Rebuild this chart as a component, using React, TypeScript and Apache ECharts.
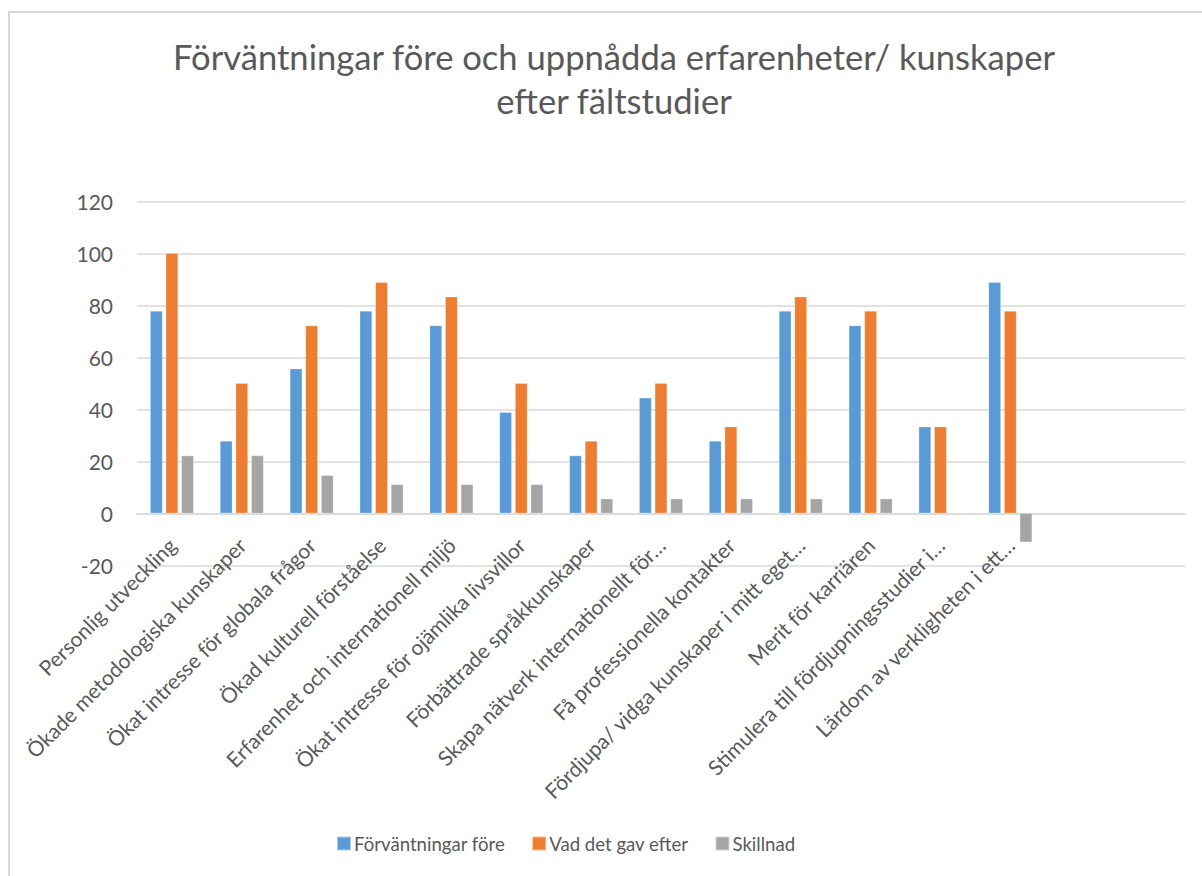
import React, { useEffect, useRef } from "react";
import * as echarts from "echarts";

const categories = [
  "Personlig utveckling",
  "Ökade metodologiska kunskaper",
  "Ökat intresse för globala frågor",
  "Ökad kulturell förståelse",
  "Erfarenhet och internationell miljö",
  "Ökat intresse för ojämlika livsvillor",
  "Förbättrade språkkunskaper",
  "Skapa nätverk internationellt för…",
  "Få professionella kontakter",
  "Fördjupa/ vidga kunskaper i mitt eget…",
  "Merit för karriären",
  "Stimulera till fördjupningsstudier i…",
  "Lärdom av verkligheten i ett…",
  "",
  "",
];

const fore = [77.8, 27.8, 55.6, 77.8, 72.2, 38.9, 22.2, 44.4, 27.8, 77.8, 72.2, 33.3, 88.9, null, null];
const efter = [100, 50, 72.2, 88.9, 83.3, 50, 27.8, 50, 33.3, 83.3, 77.8, 33.3, 77.8, null, null];
const skillnad = [22.2, 22.2, 14.6, 11.1, 11.1, 11.1, 5.6, 5.6, 5.6, 5.6, 5.6, 0, -11.1, null, null];

const seriesNames = ["Förväntningar före", "Vad det gav efter", "Skillnad"];
const colors = ["#5B9BD5", "#ED7D31", "#A5A5A5"];
const yTicks = { min: -20, max: 120, interval: 20 };
const titleText = "Förväntningar före och uppnådda erfarenheter/ kunskaper\nefter fältstudier";

const FONT = "Lato";
const TXT = "#595959";

export default function App() {
  const ref = useRef<HTMLDivElement>(null);
  useEffect(() => {
    const chart = echarts.init(ref.current!, null, { renderer: "svg" });
    const values = [fore, efter, skillnad];
    chart.setOption({
      animation: false,
      color: colors,
      textStyle: { fontFamily: FONT },
      title: {
        text: titleText,
        left: 609,
        top: 29,
        textAlign: "center",
        textStyle: {
          fontFamily: FONT,
          fontSize: 34.6,
          fontWeight: "normal",
          color: TXT,
          lineHeight: 44,
        },
      },
      legend: {
        left: 331,
        top: 829,
        itemWidth: 14,
        itemHeight: 14,
        itemGap: 26,
        icon: "rect",
        textStyle: { fontFamily: FONT, fontSize: 18.6, color: TXT, padding: [0, 0, 0, -2] },
        data: seriesNames,
      },
      graphic: [
        { type: "line", shape: { x1: 9, y1: 11, x2: 9, y2: 876 }, style: { stroke: "#D9D9D9", lineWidth: 2 } },
        { type: "line", shape: { x1: 8, y1: 12, x2: 1202, y2: 12 }, style: { stroke: "#D9D9D9", lineWidth: 2 } },
      ],
      grid: { left: 137, right: 17, top: 201.3, bottom: 310.7, containLabel: false, outerBoundsMode: "none" },
      xAxis: {
        type: "category",
        data: categories,
        axisLine: { onZero: true, lineStyle: { color: "#D9D9D9", width: 1.5 } },
        axisTick: { show: false },
        axisLabel: {
          interval: 0,
          rotate: 45,
          margin: -24,
          fontFamily: FONT,
          fontSize: 21,
          color: TXT,
        },
      },
      yAxis: {
        type: "value",
        min: yTicks.min,
        max: yTicks.max,
        interval: yTicks.interval,
        axisLine: { show: false },
        axisTick: { show: false },
        splitLine: { lineStyle: { color: "#D9D9D9", width: 1.5 } },
        axisLabel: { margin: 24, fontFamily: FONT, fontSize: 21, color: TXT },
      },
      series: seriesNames.map((name, i) => ({
        name,
        type: "bar",
        data: values[i],
        barWidth: 12.3,
        barGap: "27%",
        itemStyle: { color: colors[i], borderColor: "rgba(255,255,255,0.5)", borderWidth: 0.5 },
      })),
    });
    return () => chart.dispose();
  }, []);
  return (
    <div
      ref={ref}
      style={{ position: "fixed", left: 0, top: 0, width: 1202, height: 876, background: "#fff" }}
    />
  );
}
